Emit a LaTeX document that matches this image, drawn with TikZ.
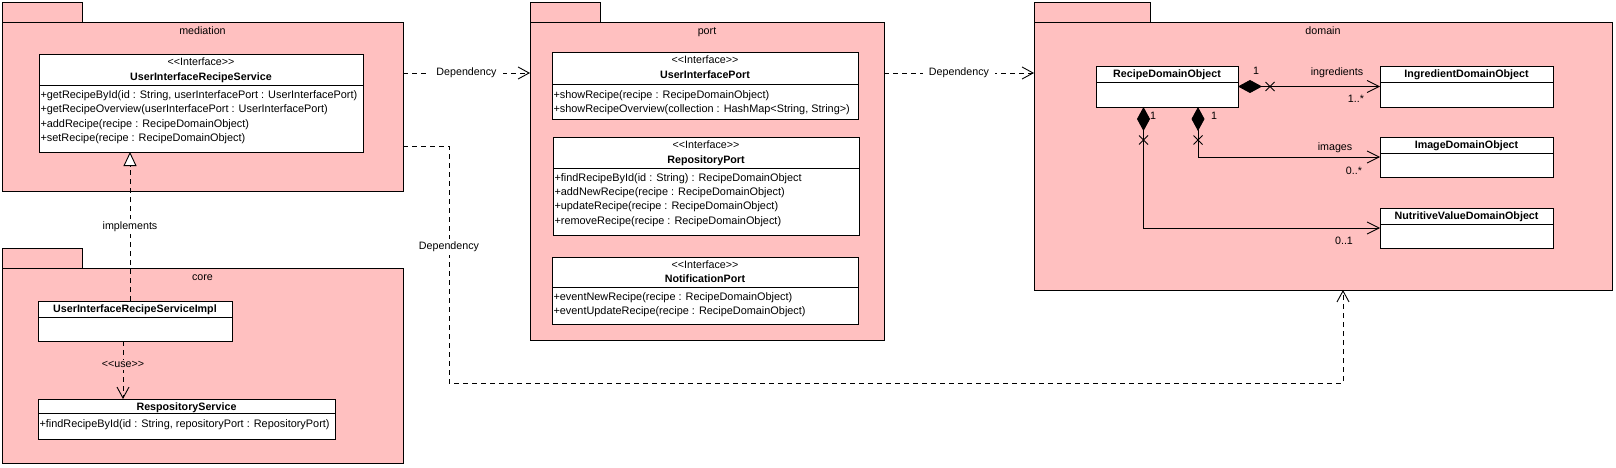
\documentclass[tikz,border=0pt]{standalone}
\usepackage{fontspec}
\setmainfont{Liberation Sans}[Ligatures=TeXOff]
\usetikzlibrary{arrows.meta}
\definecolor{pkgpink}{RGB}{255,192,192}
\begin{document}
\begin{tikzpicture}[x=1pt,y=-1pt,line width=0.9pt,
  font=\fontsize{10.7}{13}\selectfont,
  pkg/.style={rectangle,draw=black,fill=pkgpink,inner sep=0pt,outer sep=0pt,anchor=north west},
  cls/.style={rectangle,draw=black,fill=white,inner sep=0pt,outer sep=0pt,anchor=north west},
  txt/.style={inner sep=0pt,outer sep=0pt,anchor=base},
  txtb/.style={txt,font=\fontsize{10.7}{13}\selectfont\bfseries},
  meth/.style={inner sep=0pt,outer sep=0pt,anchor=base west,font=\fontsize{10.9}{13}\selectfont},
  lbl/.style={inner xsep=6pt,inner ysep=1pt,fill=white},
  dep/.style={dash pattern=on 5pt off 4pt,-{Straight Barb[length=11pt,width=12pt]}},
  realiz/.style={dash pattern=on 5pt off 4pt,-{Triangle[length=14pt,width=13pt,fill=white]}},
  comp/.style={{Diamond[length=24pt,width=13pt]}-{Straight Barb[length=12pt,width=12pt]}},
  xmark/.style={line width=0.9pt}]
\useasboundingbox (0,0) rectangle (1616,468);
\fill[white] (0,0) rectangle (1616,468);

% ---------- packages ----------
\node[pkg,minimum width=80pt,minimum height=20pt] (medtab) at (2,2) {};
\node[pkg,minimum width=401pt,minimum height=169pt] (mediation) at (2,22) {};
\node[txt] (medlabel) at (202.5,34.5) {mediation};

\node[pkg,minimum width=80pt,minimum height=20pt] (coretab) at (2,248) {};
\node[pkg,minimum width=401pt,minimum height=195pt] (core) at (2,268) {};
\node[txt] (corelabel) at (202.5,280.5) {core};

\node[pkg,minimum width=70pt,minimum height=20pt] (porttab) at (530,2) {};
\node[pkg,minimum width=354pt,minimum height=318pt] (port) at (530,22) {};
\node[txt] (portlabel) at (707,34.5) {port};

\node[pkg,minimum width=116pt,minimum height=20pt] (domtab) at (1034,2) {};
\node[pkg,minimum width=578pt,minimum height=268pt] (domain) at (1034,22) {};
\node[txt] (domlabel) at (1323,34.5) {domain};

% ---------- mediation ----------
\node[cls,minimum width=324pt,minimum height=98pt] (uirs) at (39,54) {};
\draw (39,85) -- (363,85);
\node[txt] (uirs-st) at (201,65.8) {<<Interface>>};
\node[txtb] (uirs-n) at (201,80.8) {UserInterfaceRecipeService};
\foreach \t [count=\i] in {{+getRecipeById(id : String, userInterfacePort : UserInterfacePort)},
  {+getRecipeOverview(userInterfacePort : UserInterfacePort)},
  {+addRecipe(recipe : RecipeDomainObject)},
  {+setRecipe(recipe : RecipeDomainObject)}}
  \node[meth] (uirs-m\i) at (40.5,{98.5+14.3*(\i-1)}) {\t};

% ---------- core ----------
\node[cls,minimum width=194pt,minimum height=40pt] (impl) at (38,301) {};
\draw (38,317) -- (232,317);
\node[txtb] (impl-n) at (135,312.8) {UserInterfaceRecipeServiceImpl};

\node[cls,minimum width=297pt,minimum height=40pt] (repserv) at (38,399) {};
\draw (38,413.5) -- (335,413.5);
\node[txtb] (repserv-n) at (186.5,410.2) {RespositoryService};
\node[meth] (repserv-m1) at (39.5,427.5) {+findRecipeById(id : String, repositoryPort : RepositoryPort)};

% ---------- port ----------
\node[cls,minimum width=306pt,minimum height=67pt] (uip) at (552,52) {};
\draw (552,84) -- (858,84);
\node[txt] (uip-st) at (705,63.8) {<<Interface>>};
\node[txtb] (uip-n) at (705,78.5) {UserInterfacePort};
\foreach \t [count=\i] in {{+showRecipe(recipe : RecipeDomainObject)},
  {+showRecipeOverview(collection : HashMap<String, String>)}}
  \node[meth] (uip-m\i) at (553.5,{98.5+14.3*(\i-1)}) {\t};

\node[cls,minimum width=306pt,minimum height=98pt] (rp) at (553,137) {};
\draw (553,168) -- (859,168);
\node[txt] (rp-st) at (706,148.8) {<<Interface>>};
\node[txtb] (rp-n) at (706,163.8) {RepositoryPort};
\foreach \t [count=\i] in {{+findRecipeById(id : String) : RecipeDomainObject},
  {+addNewRecipe(recipe : RecipeDomainObject)},
  {+updateRecipe(recipe : RecipeDomainObject)},
  {+removeRecipe(recipe : RecipeDomainObject)}}
  \node[meth] (rp-m\i) at (554.5,{181.2+14.3*(\i-1)}) {\t};

\node[cls,minimum width=306pt,minimum height=67pt] (np) at (552,257) {};
\draw (552,287) -- (858,287);
\node[txt] (np-st) at (705,268.3) {<<Interface>>};
\node[txtb] (np-n) at (705,282.8) {NotificationPort};
\foreach \t [count=\i] in {{+eventNewRecipe(recipe : RecipeDomainObject)},
  {+eventUpdateRecipe(recipe : RecipeDomainObject)}}
  \node[meth] (np-m\i) at (553.5,{300+14.3*(\i-1)}) {\t};

% ---------- domain ----------
\node[cls,minimum width=142pt,minimum height=41pt] (rdo) at (1096,66) {};
\draw (1096,82) -- (1238,82);
\node[txtb] (rdo-n) at (1167,77.8) {RecipeDomainObject};

\node[cls,minimum width=173pt,minimum height=41pt] (ido) at (1380,66) {};
\draw (1380,82) -- (1553,82);
\node[txtb] (ido-n) at (1466.5,77.8) {IngredientDomainObject};

\node[cls,minimum width=173pt,minimum height=40pt] (imgdo) at (1380,137) {};
\draw (1380,153) -- (1553,153);
\node[txtb] (imgdo-n) at (1466.5,148.8) {ImageDomainObject};

\node[cls,minimum width=173pt,minimum height=40pt] (nvdo) at (1380,208) {};
\draw (1380,224) -- (1553,224);
\node[txtb] (nvdo-n) at (1466.5,219.8) {NutritiveValueDomainObject};

% ---------- connectors ----------
\coordinate (depy) at (0,73);
\draw[dep] (mediation.east |- depy) -- node[lbl] (dep1) {Dependency} (port.west |- depy);
\draw[dep] (port.east |- depy) -- node[lbl] (dep2) {Dependency} (domain.west |- depy);

\coordinate (dy2) at (0,146);
\coordinate (dx2) at (449,0);
\coordinate (dy3) at (0,383);
\coordinate (dx3) at (1343,0);
\draw[dep] (mediation.east |- dy2) -- (dx2 |- dy2)
  -- node[lbl,pos=0.426,inner xsep=2pt,inner ysep=3pt] (dep3) {Dependency} (dx2 |- dy3)
  -- (dx3 |- dy3) -- (domain.south -| dx3);

\coordinate (ix) at (130,0);
\draw[realiz] (impl.north -| ix) -- node[lbl,inner xsep=2pt,inner ysep=3pt,pos=0.5] (implbl) {implements} (uirs.south -| ix);

\coordinate (ux) at (123,0);
\draw[dep] (impl.south -| ux) -- node[lbl,fill=pkgpink,inner xsep=1pt,inner ysep=2pt,pos=0.41] (uselbl) {<<use>>} (repserv.north -| ux);

% compositions
\draw[comp] (rdo.east) -- (ido.west);
\coordinate (cx2) at (1198,0);
\coordinate (cx3) at (1143.5,0);
\draw[comp] (rdo.south -| cx2) |- (imgdo.west);
\draw[comp] (rdo.south -| cx3) |- (nvdo.west);

\coordinate (xm1) at (1270,86.5);
\coordinate (xm2) at (1198,140);
\coordinate (xm3) at (1143.5,140);
\foreach \c in {xm1,xm2,xm3}
  \draw[xmark] (\c) +(-4.5,-4.5) -- +(4.5,4.5) (\c) +(-4.5,4.5) -- +(4.5,-4.5);

\node[txt] (m1a) at (1256,75) {1};
\node[txt] (m1b) at (1337,75.5) {ingredients};
\node[txt] (m1c) at (1356,102.5) {1..*};
\node[txt] (m2a) at (1214,119.5) {1};
\node[txt] (m2b) at (1335,150.5) {images};
\node[txt] (m2c) at (1354,174.5) {0..*};
\node[txt] (m3a) at (1153,119.5) {1};
\node[txt] (m3c) at (1344,244.5) {0..1};
\end{tikzpicture}
\end{document}
